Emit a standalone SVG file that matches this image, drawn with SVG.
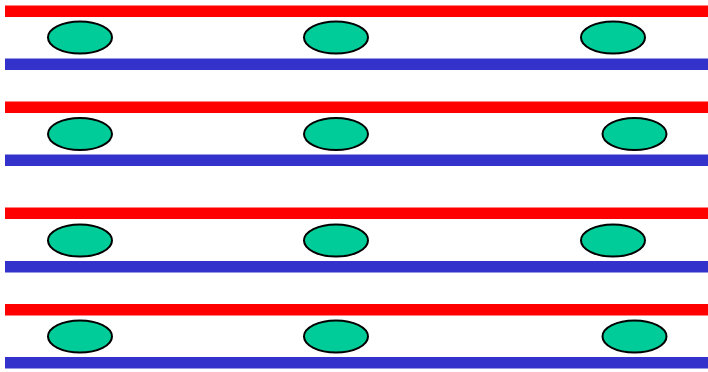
<svg xmlns="http://www.w3.org/2000/svg" width="708" height="372" viewBox="0 0 708 372">
<style>
.red{fill:#FF0000}
.blue{fill:#3333CC}
.node{fill:#00CC99;stroke:#000;stroke-width:2}
</style>
<rect width="708" height="372" fill="#fff"/>
<g id="bars">
<rect class="red" x="5" y="5.5" width="703" height="11.5"/>
<rect class="blue" x="5" y="58.5" width="703" height="11.5"/>
<rect class="red" x="5" y="101.5" width="703" height="11.5"/>
<rect class="blue" x="5" y="154.5" width="703" height="11.5"/>
<rect class="red" x="5" y="207.5" width="703" height="11.5"/>
<rect class="blue" x="5" y="261" width="703" height="11.5"/>
<rect class="red" x="5" y="304" width="703" height="11.5"/>
<rect class="blue" x="5" y="357" width="703" height="11.5"/>
</g>
<g id="n1"><ellipse class="node" cx="80" cy="37.5" rx="32" ry="16"/></g>
<g id="n2"><ellipse class="node" cx="336" cy="37.5" rx="32" ry="16"/></g>
<g id="n3"><ellipse class="node" cx="613" cy="37.5" rx="32" ry="16"/></g>
<g id="n4"><ellipse class="node" cx="80" cy="134" rx="32" ry="16"/></g>
<g id="n5"><ellipse class="node" cx="336" cy="134" rx="32" ry="16"/></g>
<g id="n6"><ellipse class="node" cx="634.5" cy="134" rx="32" ry="16"/></g>
<g id="n7"><ellipse class="node" cx="80" cy="240.5" rx="32" ry="16"/></g>
<g id="n8"><ellipse class="node" cx="336" cy="240.5" rx="32" ry="16"/></g>
<g id="n9"><ellipse class="node" cx="613" cy="240.5" rx="32" ry="16"/></g>
<g id="n10"><ellipse class="node" cx="80" cy="336.5" rx="32" ry="16"/></g>
<g id="n11"><ellipse class="node" cx="336" cy="336.5" rx="32" ry="16"/></g>
<g id="n12"><ellipse class="node" cx="634.5" cy="336.5" rx="32" ry="16"/></g>
<g id="connectors"></g>
</svg>
